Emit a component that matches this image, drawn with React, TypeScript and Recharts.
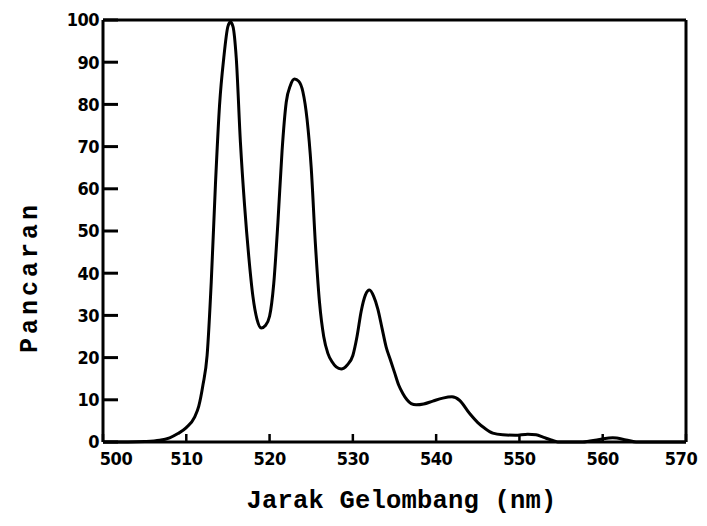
import { LineChart, Line, XAxis, YAxis, ReferenceLine } from 'recharts'

// wavelength (nm) and relative emission
const wavelengths = [
  500, 503, 505, 506.8, 508, 509, 510, 511, 511.5, 512, 512.5, 513, 513.5, 514, 514.5, 515, 515.3,
  515.6, 516, 516.5, 517, 517.5, 518, 518.5, 519, 519.5, 520, 520.5, 521, 521.5, 522, 522.5, 523,
  523.5, 524, 524.5, 525, 525.5, 526, 526.5, 527, 527.5, 528, 528.6, 529.3, 530, 530.5, 531, 531.5,
  532, 532.5, 533, 533.5, 534, 534.5, 535, 535.5, 536, 536.5, 537, 537.6, 538.5, 539.6, 540.8, 541.9,
  542.8, 544, 545, 545.8, 546.8, 548, 549.5, 551, 552, 552.9, 553.8, 554.6, 557.6, 559.6, 561.2, 562.8,
  564, 570,
]
const emission = [
  0, 0, 0.1, 0.4, 1, 2, 3.4, 5.9, 8.5, 13.5, 20.5, 38, 61, 80, 91, 98.5, 99.5,
  98.5, 91, 71, 56, 44, 34.5, 29, 27, 27.6, 29.8, 37.5, 52, 69, 80.5, 84.5, 86,
  85.5, 83, 76.5, 65, 47, 33, 25, 21, 19, 17.8, 17.3, 18.2, 20.5, 25, 31, 34.8,
  36, 34.5, 31.5, 27, 22.5, 19.5, 16.5, 13.5, 11.5, 10, 9.1, 8.8, 9, 9.7, 10.4, 10.7,
  9.9, 6.8, 4.6, 3.3, 2.1, 1.7, 1.6, 1.85, 1.7, 1.1, 0.5, 0, 0, 0.6, 1.0, 0.5,
  0, 0,
]
const xTicks = [500, 510, 520, 530, 540, 550, 560, 570]
const yTicks = [0, 10, 20, 30, 40, 50, 60, 70, 80, 90, 100]

const xTitle = 'Jarak Gelombang (nm)'
const yTitle = 'Pancaran'

const data = wavelengths.map((w, i) => ({ w, v: emission[i] }))

const tickFamily = '"DejaVu Sans Condensed", "Liberation Sans Narrow", "Liberation Sans", sans-serif'
const titleFont = '"Liberation Mono", "DejaVu Sans Mono", monospace'

const tickFont = {
  fill: '#000',
  fontSize: 18,
  fontWeight: 700,
  fontFamily: tickFamily,
  letterSpacing: -0.5,
}

// the end labels sit a little off their ticks, clear of the frame
function XTick({ x, y, payload }: any) {
  const shift = payload.value === 500 ? 13 : payload.value === 570 ? -5 : 0
  return (
    <text
      x={x + shift}
      y={y}
      dy="0.71em"
      textAnchor="middle"
      fill="#000"
      fontSize={18}
      fontWeight={700}
      fontFamily={tickFamily}
      letterSpacing={-0.5}
    >
      {payload.value}
    </text>
  )
}

function XTitle({ viewBox }: any) {
  if (!viewBox) return null
  return (
    <text
      x={viewBox.x + viewBox.width / 2 + 7}
      y={viewBox.y + 66}
      textAnchor="middle"
      fontFamily={titleFont}
      fontWeight={700}
      fontSize={25.5}
      letterSpacing={0.2}
      fill="#000"
    >
      {xTitle}
    </text>
  )
}

function YTitle({ viewBox }: any) {
  if (!viewBox) return null
  const cx = viewBox.x + 37
  const cy = viewBox.y + viewBox.height / 2 + 46
  return (
    <text
      transform={`translate(${cx}, ${cy}) rotate(-90)`}
      textAnchor="middle"
      fontFamily={titleFont}
      fontWeight={700}
      fontSize={25}
      letterSpacing={4}
      fill="#000"
    >
      {yTitle}
    </text>
  )
}

export default function App() {
  return (
    <div style={{ position: 'absolute', left: 0, top: 0, width: 707, height: 526, background: '#fff' }}>
      <LineChart width={707} height={526} data={data} margin={{ top: 20, right: 21, bottom: 0, left: 0 }}>
        <XAxis
          dataKey="w"
          type="number"
          domain={[500, 570]}
          ticks={xTicks}
          height={84}
          axisLine={{ stroke: '#000', strokeWidth: 3 }}
          tickLine={{ stroke: '#000', strokeWidth: 2.5 }}
          tickSize={-8}
          tickMargin={18}
          tick={<XTick />}
          label={<XTitle />}
        />
        <YAxis
          type="number"
          domain={[0, 100]}
          ticks={yTicks}
          width={103}
          axisLine={{ stroke: '#000', strokeWidth: 3 }}
          tickLine={{ stroke: '#000', strokeWidth: 3 }}
          tickSize={-15}
          tickMargin={19}
          tick={tickFont}
          label={<YTitle />}
        />
        <ReferenceLine y={100} stroke="#000" strokeWidth={3} />
        <ReferenceLine x={570} stroke="#000" strokeWidth={3} />
        <Line
          type="monotone"
          dataKey="v"
          stroke="#000"
          strokeWidth={3}
          dot={false}
          isAnimationActive={false}
        />
      </LineChart>
    </div>
  )
}
